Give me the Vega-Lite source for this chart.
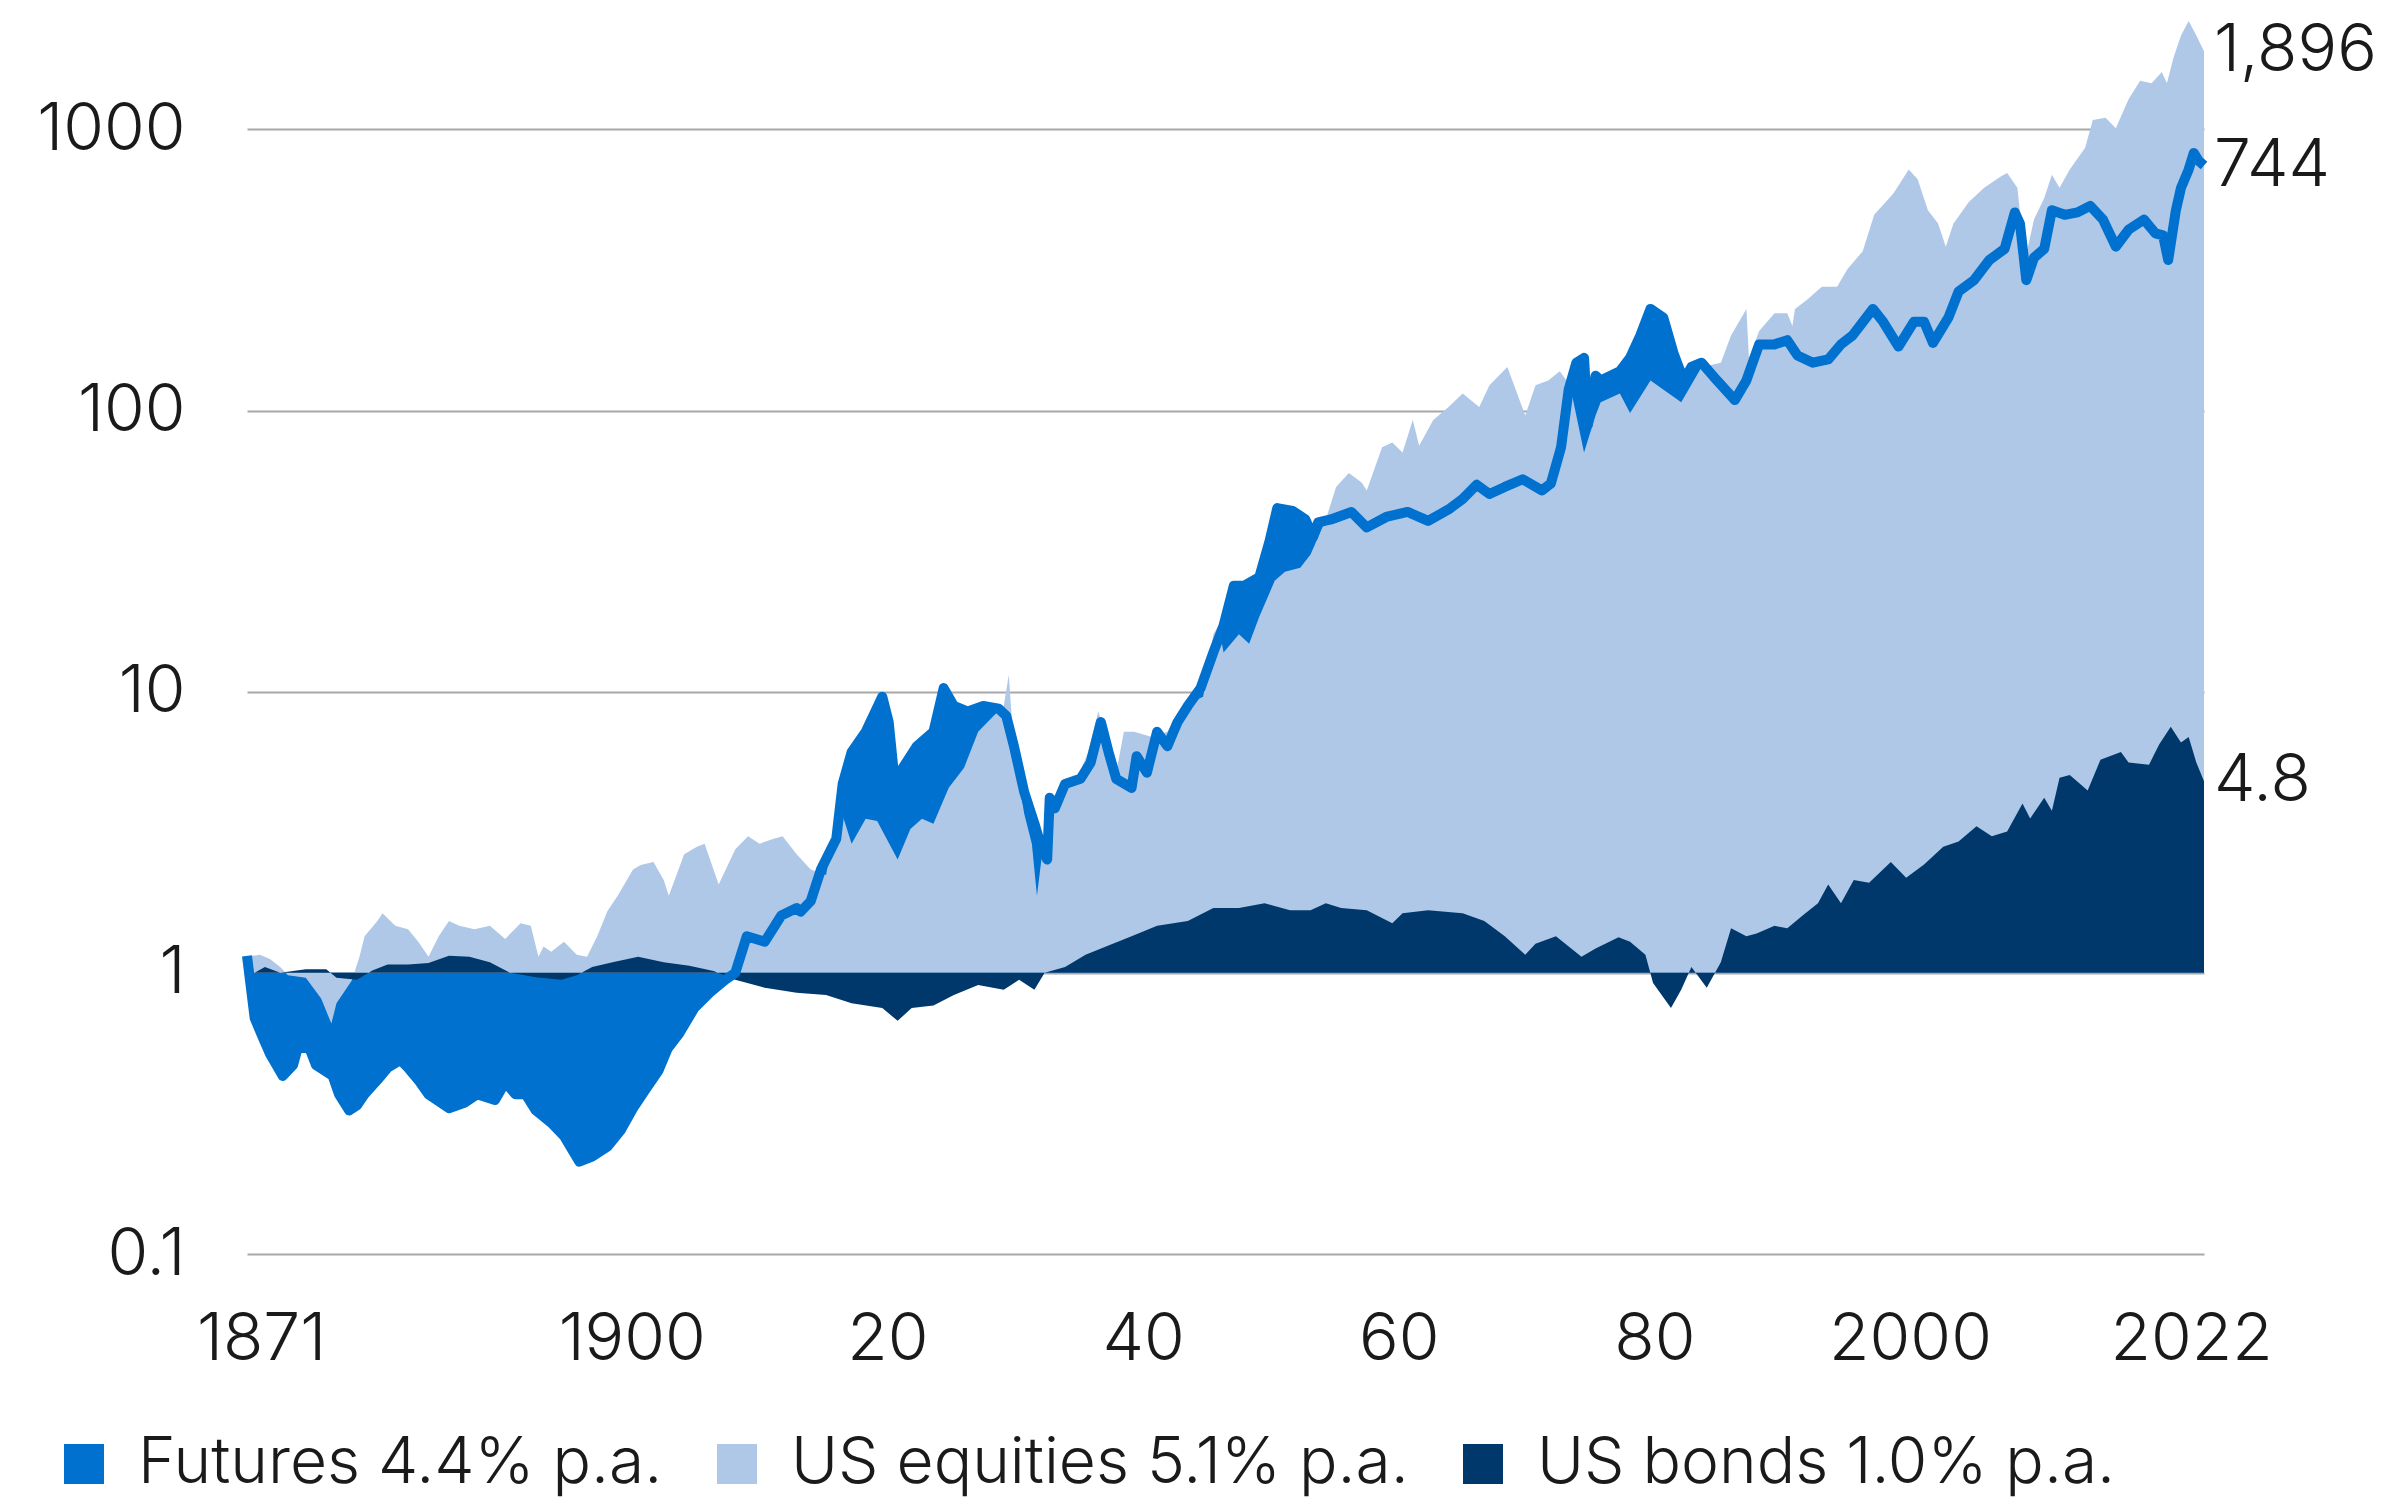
{
  "$schema": "https://vega.github.io/schema/vega-lite/v6.json",
  "width": 1957,
  "height": 1237,
  "autosize": {"type": "none"},
  "padding": {"left": 247, "top": 17, "right": 188, "bottom": 249},
  "background": "white",
  "config": {
    "view": {"stroke": null},
    "font": "Inter",
    "axis": {"labelFont": "Inter", "labelFontWeight": 300, "labelColor": "#1a1a1a", "labelFontSize": 66, "domain": false, "ticks": false, "title": null}
  },
  "data": {"values": [
    {"s":"Futures","t":1869.9,"v":1.15},{"s":"Futures","t":1870.1,"v":0.97},{"s":"Futures","t":1870.5,"v":0.69},{"s":"Futures","t":1871.2,"v":0.58},{"s":"Futures","t":1871.7,"v":0.515},{"s":"Futures","t":1872.7,"v":0.43},{"s":"Futures","t":1873.5,"v":0.47},{"s":"Futures","t":1873.9,"v":0.547},{"s":"Futures","t":1874.8,"v":0.537},{"s":"Futures","t":1875.3,"v":0.47},{"s":"Futures","t":1876.6,"v":0.43},{"s":"Futures","t":1877.1,"v":0.37},{"s":"Futures","t":1877.9,"v":0.324},{"s":"Futures","t":1878.5,"v":0.338},{"s":"Futures","t":1879.1,"v":0.37},{"s":"Futures","t":1880.1,"v":0.416},{"s":"Futures","t":1880.9,"v":0.46},{"s":"Futures","t":1881.9,"v":0.49},{"s":"Futures","t":1882.5,"v":0.46},{"s":"Futures","t":1883.3,"v":0.416},{"s":"Futures","t":1884.1,"v":0.37},{"s":"Futures","t":1885.7,"v":0.33},{"s":"Futures","t":1886.9,"v":0.345},{"s":"Futures","t":1887.9,"v":0.37},{"s":"Futures","t":1889.3,"v":0.353},{"s":"Futures","t":1890.1,"v":0.408},{"s":"Futures","t":1890.9,"v":0.37},{"s":"Futures","t":1891.7,"v":0.37},{"s":"Futures","t":1892.5,"v":0.324},{"s":"Futures","t":1893.7,"v":0.293},{"s":"Futures","t":1894.7,"v":0.263},{"s":"Futures","t":1895.9,"v":0.213},{"s":"Futures","t":1896.9,"v":0.222},{"s":"Futures","t":1898.1,"v":0.241},{"s":"Futures","t":1899.1,"v":0.274},{"s":"Futures","t":1900.1,"v":0.33},{"s":"Futures","t":1901.0,"v":0.38},{"s":"Futures","t":1902.1,"v":0.45},{"s":"Futures","t":1902.8,"v":0.537},{"s":"Futures","t":1903.7,"v":0.607},{"s":"Futures","t":1904.9,"v":0.75},{"s":"Futures","t":1906.1,"v":0.85},{"s":"Futures","t":1907.3,"v":0.944},{"s":"Futures","t":1908.1,"v":1.0},{"s":"Futures","t":1909.0,"v":1.35},{"s":"Futures","t":1910.4,"v":1.29},{"s":"Futures","t":1911.7,"v":1.6},{"s":"Futures","t":1912.9,"v":1.7},{"s":"Futures","t":1913.2,"v":1.65},{"s":"Futures","t":1914.0,"v":1.8},{"s":"Futures","t":1914.8,"v":2.33},{"s":"Futures","t":1916.0,"v":3.0},{"s":"Futures","t":1916.5,"v":4.7},{"s":"Futures","t":1917.2,"v":6.1},{"s":"Futures","t":1918.3,"v":7.2},{"s":"Futures","t":1919.6,"v":9.6},{"s":"Futures","t":1920.1,"v":7.8},{"s":"Futures","t":1920.5,"v":5.15},{"s":"Futures","t":1920.9,"v":5.1},{"s":"Futures","t":1922.3,"v":6.4},{"s":"Futures","t":1923.6,"v":7.2},{"s":"Futures","t":1924.4,"v":10.3},{"s":"Futures","t":1925.2,"v":8.9},{"s":"Futures","t":1926.3,"v":8.5},{"s":"Futures","t":1927.5,"v":8.9},{"s":"Futures","t":1928.7,"v":8.7},{"s":"Futures","t":1929.3,"v":8.2},{"s":"Futures","t":1929.9,"v":6.4},{"s":"Futures","t":1930.7,"v":4.4},{"s":"Futures","t":1931.5,"v":3.4},{"s":"Futures","t":1932.1,"v":2.75},{"s":"Futures","t":1932.5,"v":2.53},{"s":"Futures","t":1932.7,"v":4.2},{"s":"Futures","t":1933.1,"v":3.85},{"s":"Futures","t":1933.9,"v":4.7},{"s":"Futures","t":1935.1,"v":4.9},{"s":"Futures","t":1935.9,"v":5.6},{"s":"Futures","t":1936.7,"v":7.8},{"s":"Futures","t":1937.3,"v":6.1},{"s":"Futures","t":1937.9,"v":4.9},{"s":"Futures","t":1939.1,"v":4.55},{"s":"Futures","t":1939.5,"v":5.9},{"s":"Futures","t":1940.3,"v":5.15},{"s":"Futures","t":1941.1,"v":7.2},{"s":"Futures","t":1941.9,"v":6.4},{"s":"Futures","t":1942.7,"v":7.8},{"s":"Futures","t":1943.5,"v":8.9},{"s":"Futures","t":1944.5,"v":10.3},{"s":"Futures","t":1945.5,"v":13.8},{"s":"Futures","t":1946.3,"v":17.2},{"s":"Futures","t":1947.1,"v":23.8},{"s":"Futures","t":1947.9,"v":23.8},{"s":"Futures","t":1949.1,"v":25.6},{"s":"Futures","t":1949.9,"v":34.4},{"s":"Futures","t":1950.5,"v":45},{"s":"Futures","t":1951.7,"v":44},{"s":"Futures","t":1952.7,"v":41},{"s":"Futures","t":1953.3,"v":35.6},{"s":"Futures","t":1953.7,"v":40},{"s":"Futures","t":1954.7,"v":41},{"s":"Futures","t":1956.3,"v":43.6},{"s":"Futures","t":1957.5,"v":38.4},{"s":"Futures","t":1959.1,"v":42},{"s":"Futures","t":1960.7,"v":43.6},{"s":"Futures","t":1962.3,"v":40.5},{"s":"Futures","t":1963.9,"v":44.5},{"s":"Futures","t":1965.0,"v":48.5},{"s":"Futures","t":1966.1,"v":54.5},{"s":"Futures","t":1967.1,"v":50.5},{"s":"Futures","t":1968.3,"v":53.5},{"s":"Futures","t":1969.7,"v":57},{"s":"Futures","t":1971.2,"v":52},{"s":"Futures","t":1971.9,"v":55},{"s":"Futures","t":1972.7,"v":74},{"s":"Futures","t":1973.3,"v":119},{"s":"Futures","t":1973.9,"v":148},{"s":"Futures","t":1974.5,"v":154},{"s":"Futures","t":1974.8,"v":89},{"s":"Futures","t":1975.4,"v":133},{"s":"Futures","t":1975.8,"v":128},{"s":"Futures","t":1977.3,"v":138},{"s":"Futures","t":1978.1,"v":154},{"s":"Futures","t":1978.9,"v":185},{"s":"Futures","t":1979.7,"v":230},{"s":"Futures","t":1980.7,"v":214},{"s":"Futures","t":1981.5,"v":160},{"s":"Futures","t":1982.3,"v":128},{"s":"Futures","t":1982.9,"v":143},{"s":"Futures","t":1983.7,"v":148},{"s":"Futures","t":1984.9,"v":128},{"s":"Futures","t":1986.3,"v":109},{"s":"Futures","t":1987.2,"v":128},{"s":"Futures","t":1988.2,"v":172},{"s":"Futures","t":1989.4,"v":172},{"s":"Futures","t":1990.4,"v":178},{"s":"Futures","t":1991.2,"v":157},{"s":"Futures","t":1992.4,"v":148},{"s":"Futures","t":1993.6,"v":152},{"s":"Futures","t":1994.6,"v":172},{"s":"Futures","t":1995.5,"v":185},{"s":"Futures","t":1997.1,"v":230},{"s":"Futures","t":1997.9,"v":207},{"s":"Futures","t":1999.1,"v":169},{"s":"Futures","t":2000.3,"v":207},{"s":"Futures","t":2001.1,"v":207},{"s":"Futures","t":2001.8,"v":174},{"s":"Futures","t":2003.0,"v":214},{"s":"Futures","t":2003.8,"v":265},{"s":"Futures","t":2005.0,"v":291},{"s":"Futures","t":2006.2,"v":343},{"s":"Futures","t":2007.4,"v":376},{"s":"Futures","t":2008.2,"v":507},{"s":"Futures","t":2008.6,"v":463},{"s":"Futures","t":2009.1,"v":291},{"s":"Futures","t":2009.7,"v":350},{"s":"Futures","t":2010.5,"v":376},{"s":"Futures","t":2011.1,"v":516},{"s":"Futures","t":2012.1,"v":497},{"s":"Futures","t":2013.1,"v":507},{"s":"Futures","t":2014.1,"v":535},{"s":"Futures","t":2015.1,"v":478},{"s":"Futures","t":2016.1,"v":383},{"s":"Futures","t":2017.1,"v":440},{"s":"Futures","t":2018.3,"v":478},{"s":"Futures","t":2019.2,"v":427},{"s":"Futures","t":2019.8,"v":420},{"s":"Futures","t":2020.2,"v":343},{"s":"Futures","t":2020.8,"v":516},{"s":"Futures","t":2021.2,"v":620},{"s":"Futures","t":2021.8,"v":720},{"s":"Futures","t":2022.2,"v":825},{"s":"Futures","t":2022.6,"v":772},{"s":"Futures","t":2023.0,"v":744},
    {"s":"US equities","t":1869.9,"v":1.14},{"s":"US equities","t":1870.9,"v":1.16},{"s":"US equities","t":1871.7,"v":1.12},{"s":"US equities","t":1872.5,"v":1.05},{"s":"US equities","t":1873.1,"v":0.98},{"s":"US equities","t":1874.5,"v":0.96},{"s":"US equities","t":1875.7,"v":0.81},{"s":"US equities","t":1876.5,"v":0.66},{"s":"US equities","t":1876.9,"v":0.78},{"s":"US equities","t":1878.1,"v":0.94},{"s":"US equities","t":1878.7,"v":1.14},{"s":"US equities","t":1879.1,"v":1.35},{"s":"US equities","t":1880.1,"v":1.53},{"s":"US equities","t":1880.5,"v":1.63},{"s":"US equities","t":1881.5,"v":1.47},{"s":"US equities","t":1882.5,"v":1.43},{"s":"US equities","t":1883.3,"v":1.29},{"s":"US equities","t":1884.1,"v":1.14},{"s":"US equities","t":1884.9,"v":1.35},{"s":"US equities","t":1885.7,"v":1.53},{"s":"US equities","t":1886.5,"v":1.47},{"s":"US equities","t":1887.7,"v":1.43},{"s":"US equities","t":1888.9,"v":1.47},{"s":"US equities","t":1890.1,"v":1.32},{"s":"US equities","t":1891.3,"v":1.5},{"s":"US equities","t":1892.1,"v":1.47},{"s":"US equities","t":1892.7,"v":1.14},{"s":"US equities","t":1893.1,"v":1.24},{"s":"US equities","t":1893.7,"v":1.19},{"s":"US equities","t":1894.7,"v":1.29},{"s":"US equities","t":1895.7,"v":1.16},{"s":"US equities","t":1896.5,"v":1.14},{"s":"US equities","t":1897.3,"v":1.35},{"s":"US equities","t":1898.1,"v":1.66},{"s":"US equities","t":1898.9,"v":1.88},{"s":"US equities","t":1900.1,"v":2.33},{"s":"US equities","t":1900.7,"v":2.42},{"s":"US equities","t":1901.7,"v":2.48},{"s":"US equities","t":1902.5,"v":2.14},{"s":"US equities","t":1902.9,"v":1.88},{"s":"US equities","t":1904.1,"v":2.64},{"s":"US equities","t":1905.1,"v":2.81},{"s":"US equities","t":1905.7,"v":2.88},{"s":"US equities","t":1906.8,"v":2.06},{"s":"US equities","t":1908.1,"v":2.75},{"s":"US equities","t":1909.1,"v":3.06},{"s":"US equities","t":1910.0,"v":2.88},{"s":"US equities","t":1911.1,"v":3.0},{"s":"US equities","t":1911.8,"v":3.06},{"s":"US equities","t":1912.9,"v":2.64},{"s":"US equities","t":1914.0,"v":2.33},{"s":"US equities","t":1915.2,"v":2.23},{"s":"US equities","t":1916.2,"v":4.0},{"s":"US equities","t":1917.2,"v":2.88},{"s":"US equities","t":1918.3,"v":3.53},{"s":"US equities","t":1919.2,"v":3.47},{"s":"US equities","t":1920.8,"v":2.53},{"s":"US equities","t":1921.8,"v":3.25},{"s":"US equities","t":1922.7,"v":3.53},{"s":"US equities","t":1923.6,"v":3.39},{"s":"US equities","t":1924.8,"v":4.55},{"s":"US equities","t":1926.0,"v":5.37},{"s":"US equities","t":1927.1,"v":7.2},{"s":"US equities","t":1928.3,"v":8.2},{"s":"US equities","t":1929.1,"v":8.9},{"s":"US equities","t":1929.5,"v":11.5},{"s":"US equities","t":1929.9,"v":6.1},{"s":"US equities","t":1930.7,"v":3.69},{"s":"US equities","t":1931.3,"v":2.88},{"s":"US equities","t":1931.7,"v":1.88},{"s":"US equities","t":1932.1,"v":2.64},{"s":"US equities","t":1932.7,"v":4.0},{"s":"US equities","t":1933.5,"v":4.4},{"s":"US equities","t":1934.7,"v":4.7},{"s":"US equities","t":1935.7,"v":6.1},{"s":"US equities","t":1936.5,"v":8.5},{"s":"US equities","t":1937.1,"v":6.9},{"s":"US equities","t":1937.9,"v":5.15},{"s":"US equities","t":1938.5,"v":7.2},{"s":"US equities","t":1939.3,"v":7.2},{"s":"US equities","t":1940.7,"v":6.9},{"s":"US equities","t":1941.9,"v":7.2},{"s":"US equities","t":1943.1,"v":8.9},{"s":"US equities","t":1944.7,"v":9.6},{"s":"US equities","t":1945.5,"v":16},{"s":"US equities","t":1945.9,"v":17.2},{"s":"US equities","t":1946.3,"v":13.8},{"s":"US equities","t":1947.5,"v":16},{"s":"US equities","t":1948.3,"v":14.8},{"s":"US equities","t":1949.1,"v":18.5},{"s":"US equities","t":1950.3,"v":24.8},{"s":"US equities","t":1951.1,"v":26.7},{"s":"US equities","t":1952.3,"v":27.6},{"s":"US equities","t":1953.1,"v":30.8},{"s":"US equities","t":1954.3,"v":41},{"s":"US equities","t":1955.1,"v":53.5},{"s":"US equities","t":1956.1,"v":60},{"s":"US equities","t":1957.1,"v":55.5},{"s":"US equities","t":1957.5,"v":52},{"s":"US equities","t":1958.7,"v":74},{"s":"US equities","t":1959.5,"v":77},{"s":"US equities","t":1960.3,"v":71},{"s":"US equities","t":1961.1,"v":92.5},{"s":"US equities","t":1961.6,"v":75},{"s":"US equities","t":1962.7,"v":92.5},{"s":"US equities","t":1963.9,"v":103},{"s":"US equities","t":1965.0,"v":115},{"s":"US equities","t":1966.3,"v":103},{"s":"US equities","t":1967.1,"v":123},{"s":"US equities","t":1968.5,"v":143},{"s":"US equities","t":1969.9,"v":96},{"s":"US equities","t":1970.7,"v":123},{"s":"US equities","t":1971.7,"v":128},{"s":"US equities","t":1972.6,"v":138},{"s":"US equities","t":1973.4,"v":123},{"s":"US equities","t":1974.5,"v":71},{"s":"US equities","t":1975.4,"v":96},{"s":"US equities","t":1975.8,"v":107},{"s":"US equities","t":1977.3,"v":115},{"s":"US equities","t":1978.1,"v":98},{"s":"US equities","t":1979.7,"v":128},{"s":"US equities","t":1982.1,"v":107},{"s":"US equities","t":1983.7,"v":143},{"s":"US equities","t":1985.2,"v":148},{"s":"US equities","t":1986.0,"v":185},{"s":"US equities","t":1987.2,"v":230},{"s":"US equities","t":1987.4,"v":154},{"s":"US equities","t":1988.2,"v":192},{"s":"US equities","t":1989.4,"v":222},{"s":"US equities","t":1990.4,"v":222},{"s":"US equities","t":1990.8,"v":200},{"s":"US equities","t":1991.0,"v":230},{"s":"US equities","t":1991.9,"v":247},{"s":"US equities","t":1993.1,"v":276},{"s":"US equities","t":1994.3,"v":276},{"s":"US equities","t":1995.1,"v":318},{"s":"US equities","t":1996.3,"v":369},{"s":"US equities","t":1997.2,"v":497},{"s":"US equities","t":1998.7,"v":592},{"s":"US equities","t":1999.9,"v":720},{"s":"US equities","t":2000.6,"v":665},{"s":"US equities","t":2001.4,"v":516},{"s":"US equities","t":2002.2,"v":463},{"s":"US equities","t":2002.8,"v":383},{"s":"US equities","t":2003.4,"v":463},{"s":"US equities","t":2004.6,"v":552},{"s":"US equities","t":2005.8,"v":620},{"s":"US equities","t":2007.1,"v":680},{"s":"US equities","t":2007.6,"v":700},{"s":"US equities","t":2008.4,"v":620},{"s":"US equities","t":2009.0,"v":343},{"s":"US equities","t":2009.7,"v":478},{"s":"US equities","t":2010.5,"v":570},{"s":"US equities","t":2011.1,"v":690},{"s":"US equities","t":2011.7,"v":620},{"s":"US equities","t":2012.5,"v":720},{"s":"US equities","t":2013.7,"v":860},{"s":"US equities","t":2014.3,"v":1080},{"s":"US equities","t":2015.3,"v":1100},{"s":"US equities","t":2016.1,"v":1010},{"s":"US equities","t":2017.1,"v":1280},{"s":"US equities","t":2018.0,"v":1490},{"s":"US equities","t":2018.9,"v":1460},{"s":"US equities","t":2019.7,"v":1600},{"s":"US equities","t":2020.1,"v":1460},{"s":"US equities","t":2020.6,"v":1790},{"s":"US equities","t":2021.2,"v":2160},{"s":"US equities","t":2021.8,"v":2430},{"s":"US equities","t":2022.4,"v":2160},{"s":"US equities","t":2023.0,"v":1896},
    {"s":"US bonds","t":1869.9,"v":1.0},{"s":"US bonds","t":1870.5,"v":1.0},{"s":"US bonds","t":1871.3,"v":1.05},{"s":"US bonds","t":1872.5,"v":1.0},{"s":"US bonds","t":1874.5,"v":1.03},{"s":"US bonds","t":1876.1,"v":1.03},{"s":"US bonds","t":1876.9,"v":0.96},{"s":"US bonds","t":1878.5,"v":0.945},{"s":"US bonds","t":1879.7,"v":1.02},{"s":"US bonds","t":1880.9,"v":1.07},{"s":"US bonds","t":1882.5,"v":1.07},{"s":"US bonds","t":1884.1,"v":1.085},{"s":"US bonds","t":1885.7,"v":1.15},{"s":"US bonds","t":1887.3,"v":1.14},{"s":"US bonds","t":1888.9,"v":1.09},{"s":"US bonds","t":1890.5,"v":1.0},{"s":"US bonds","t":1892.5,"v":0.965},{"s":"US bonds","t":1894.5,"v":0.945},{"s":"US bonds","t":1895.7,"v":0.98},{"s":"US bonds","t":1896.9,"v":1.05},{"s":"US bonds","t":1898.5,"v":1.09},{"s":"US bonds","t":1900.5,"v":1.14},{"s":"US bonds","t":1902.5,"v":1.09},{"s":"US bonds","t":1904.5,"v":1.06},{"s":"US bonds","t":1906.4,"v":1.015},{"s":"US bonds","t":1908.1,"v":0.945},{"s":"US bonds","t":1910.4,"v":0.886},{"s":"US bonds","t":1912.9,"v":0.85},{"s":"US bonds","t":1915.2,"v":0.835},{"s":"US bonds","t":1917.2,"v":0.78},{"s":"US bonds","t":1919.6,"v":0.75},{"s":"US bonds","t":1920.8,"v":0.675},{"s":"US bonds","t":1921.9,"v":0.75},{"s":"US bonds","t":1923.6,"v":0.765},{"s":"US bonds","t":1925.2,"v":0.835},{"s":"US bonds","t":1927.1,"v":0.905},{"s":"US bonds","t":1929.1,"v":0.87},{"s":"US bonds","t":1930.3,"v":0.945},{"s":"US bonds","t":1931.5,"v":0.87},{"s":"US bonds","t":1932.3,"v":1.0},{"s":"US bonds","t":1933.9,"v":1.05},{"s":"US bonds","t":1935.5,"v":1.16},{"s":"US bonds","t":1937.1,"v":1.24},{"s":"US bonds","t":1939.1,"v":1.35},{"s":"US bonds","t":1941.1,"v":1.47},{"s":"US bonds","t":1943.5,"v":1.53},{"s":"US bonds","t":1945.5,"v":1.7},{"s":"US bonds","t":1947.5,"v":1.7},{"s":"US bonds","t":1949.5,"v":1.77},{"s":"US bonds","t":1951.5,"v":1.67},{"s":"US bonds","t":1953.1,"v":1.67},{"s":"US bonds","t":1954.3,"v":1.77},{"s":"US bonds","t":1955.5,"v":1.7},{"s":"US bonds","t":1957.5,"v":1.67},{"s":"US bonds","t":1959.5,"v":1.5},{"s":"US bonds","t":1960.3,"v":1.63},{"s":"US bonds","t":1962.3,"v":1.67},{"s":"US bonds","t":1965.0,"v":1.63},{"s":"US bonds","t":1966.7,"v":1.53},{"s":"US bonds","t":1968.3,"v":1.35},{"s":"US bonds","t":1969.9,"v":1.16},{"s":"US bonds","t":1970.7,"v":1.27},{"s":"US bonds","t":1972.3,"v":1.35},{"s":"US bonds","t":1974.3,"v":1.14},{"s":"US bonds","t":1975.4,"v":1.22},{"s":"US bonds","t":1977.2,"v":1.34},{"s":"US bonds","t":1978.1,"v":1.29},{"s":"US bonds","t":1979.3,"v":1.16},{"s":"US bonds","t":1979.9,"v":0.92},{"s":"US bonds","t":1981.3,"v":0.75},{"s":"US bonds","t":1982.1,"v":0.87},{"s":"US bonds","t":1982.9,"v":1.05},{"s":"US bonds","t":1984.1,"v":0.886},{"s":"US bonds","t":1985.2,"v":1.09},{"s":"US bonds","t":1986.0,"v":1.44},{"s":"US bonds","t":1987.2,"v":1.35},{"s":"US bonds","t":1988.0,"v":1.38},{"s":"US bonds","t":1989.4,"v":1.47},{"s":"US bonds","t":1990.4,"v":1.44},{"s":"US bonds","t":1991.6,"v":1.6},{"s":"US bonds","t":1992.8,"v":1.77},{"s":"US bonds","t":1993.6,"v":2.06},{"s":"US bonds","t":1994.6,"v":1.77},{"s":"US bonds","t":1995.6,"v":2.14},{"s":"US bonds","t":1996.8,"v":2.09},{"s":"US bonds","t":1998.5,"v":2.48},{"s":"US bonds","t":1999.7,"v":2.18},{"s":"US bonds","t":2001.1,"v":2.43},{"s":"US bonds","t":2002.6,"v":2.81},{"s":"US bonds","t":2003.8,"v":2.93},{"s":"US bonds","t":2005.2,"v":3.32},{"s":"US bonds","t":2006.4,"v":3.06},{"s":"US bonds","t":2007.6,"v":3.18},{"s":"US bonds","t":2008.8,"v":4.0},{"s":"US bonds","t":2009.4,"v":3.54},{"s":"US bonds","t":2010.5,"v":4.2},{"s":"US bonds","t":2011.1,"v":3.77},{"s":"US bonds","t":2011.7,"v":4.94},{"s":"US bonds","t":2012.5,"v":5.06},{"s":"US bonds","t":2013.9,"v":4.45},{"s":"US bonds","t":2014.9,"v":5.73},{"s":"US bonds","t":2016.5,"v":6.1},{"s":"US bonds","t":2017.1,"v":5.6},{"s":"US bonds","t":2018.7,"v":5.5},{"s":"US bonds","t":2019.5,"v":6.5},{"s":"US bonds","t":2020.4,"v":7.5},{"s":"US bonds","t":2021.2,"v":6.6},{"s":"US bonds","t":2021.8,"v":6.9},{"s":"US bonds","t":2022.4,"v":5.6},{"s":"US bonds","t":2023.0,"v":4.8}
  ]},
  "encoding": {
    "x": {"field": "t", "type": "quantitative",
      "scale": {"domain": [1869.9, 2023.0], "nice": false, "zero": false},
      "axis": {"values": [1871, 1900, 1920, 1940, 1960, 1980, 2000, 2022], "format": "d", "grid": false, "labelPadding": 53,
        "labelExpr": "indexof([1920,1940,1960,1980], datum.value) >= 0 ? slice(datum.label, 2) : datum.label", "labelFlush": false}},
    "y": {"field": "v", "type": "quantitative",
      "scale": {"type": "log", "domain": [0.1, 2511.886], "nice": false},
      "axis": {"values": [0.1, 1, 10, 100, 1000], "format": "~g", "grid": true, "gridColor": "#a8a8a8", "gridWidth": 2, "labelPadding": 62}}
  },
  "layer": [
    {"transform": [{"filter": "datum.s == 'Futures'"}],
     "mark": {"type": "area", "opacity": 1},
     "encoding": {"y2": {"datum": 1},
       "color": {"field": "s", "type": "nominal",
         "scale": {"domain": ["Futures", "US equities", "US bonds"], "range": ["#0071CE", "#AFC8E8", "#00386B"]},
         "legend": {"orient": "none", "legendX": -195, "legendY": 1415, "direction": "horizontal", "title": null,
           "symbolType": "square", "symbolSize": 1600, "symbolStrokeWidth": 0, "symbolOpacity": 1,
           "labelFont": "Inter", "labelFontWeight": 300, "labelFontSize": 64, "labelColor": "#1a1a1a", "labelLimit": 0,
           "labelOffset": 22, "columnPadding": 42, "padding": 0,
           "labelExpr": "datum.label == 'Futures' ? 'Futures 4.4% p.a.' : datum.label == 'US equities' ? 'US equities 5.1% p.a.' : 'US bonds 1.0% p.a.'"}}}},
    {"transform": [{"filter": "datum.s == 'US equities'"}],
     "mark": {"type": "area", "opacity": 1},
     "encoding": {"y2": {"datum": 1}, "color": {"field": "s", "type": "nominal"}}},
    {"transform": [{"filter": "datum.s == 'US bonds'"}],
     "mark": {"type": "area", "opacity": 1},
     "encoding": {"y2": {"datum": 1}, "color": {"field": "s", "type": "nominal"}}},
    {"data": {"values": [{}]},
     "mark": {"type": "rule", "color": "#4a6a98", "strokeWidth": 3},
     "encoding": {"y": {"datum": 1}, "x": {"value": 0}, "x2": {"value": 1957}}},
    {"transform": [{"filter": "datum.s == 'Futures'"}],
     "mark": {"type": "line", "color": "#0071CE", "strokeWidth": 10, "strokeJoin": "round"},
     "encoding": {}},
    {"transform": [{"filter": "datum.t == 2023"}],
     "mark": {"type": "text", "align": "left", "baseline": "middle", "dx": 10, "fontSize": 66, "font": "Inter", "fontWeight": 300, "color": "#1a1a1a"},
     "encoding": {"text": {"field": "v", "type": "quantitative", "format": ","}}}
  ]
}
